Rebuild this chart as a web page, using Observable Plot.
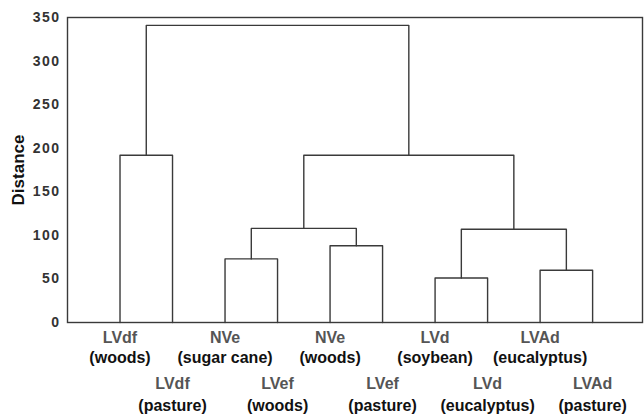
<!DOCTYPE html>
<html>
<head>
<meta charset="utf-8">
<script src="https://cdn.jsdelivr.net/npm/d3@7"></script>
<script src="https://cdn.jsdelivr.net/npm/@observablehq/plot@0.6"></script>
<style>
  html, body { margin: 0; padding: 0; background: #fff; }
  #chart svg { display: block; }
  g[aria-label="leaf-name"] text { letter-spacing: 0.5px; }
  g[aria-label="leaf-use"] text { letter-spacing: 0.9px; }
  g[aria-label="y-axis tick label"] text { letter-spacing: 1.5px; }
</style>
</head>
<body>
<div id="chart"></div>
<script>
// Leaves (left to right in the dendrogram)
const leafNames = ["LVdf", "LVdf", "NVe", "LVef", "NVe", "LVef", "LVd", "LVd", "LVAd", "LVAd"];
const leafUses = ["(woods)", "(pasture)", "(sugar cane)", "(woods)", "(woods)", "(pasture)", "(soybean)", "(eucalyptus)", "(eucalyptus)", "(pasture)"];

// Linkage: cluster ids 0..9 are leaves, merge k creates cluster 10+k
const mergeLeft = [0, 2, 4, 6, 8, 11, 13, 15, 10];
const mergeRight = [1, 3, 5, 7, 9, 12, 14, 16, 17];
const mergeHeight = [192, 73, 88, 51, 60, 108, 107, 192, 341];

const yTicks = [0, 50, 100, 150, 200, 250, 300, 350];

// derive node positions from the tree
const nodeX = leafNames.map((_, i) => i + 1);
const nodeH = leafNames.map(() => 0);
const segs = [];
mergeLeft.forEach((l, k) => {
  const r = mergeRight[k], h = mergeHeight[k];
  segs.push({id: k, x: nodeX[l], y: nodeH[l]});
  segs.push({id: k, x: nodeX[l], y: h});
  segs.push({id: k, x: nodeX[r], y: h});
  segs.push({id: k, x: nodeX[r], y: nodeH[r]});
  nodeX.push((nodeX[l] + nodeX[r]) / 2);
  nodeH.push(h);
});

const leaves = leafNames.map((n, i) => ({x: i + 1, name: n, use: leafUses[i], row: i % 2}));
const row0 = leaves.filter(d => d.row === 0);
const row1 = leaves.filter(d => d.row === 1);

const font = "'Liberation Sans', Arial, sans-serif";
const labelStyle = {fontSize: 16, fontWeight: "bold"};

const chart = Plot.plot({
  width: 644,
  height: 415,
  marginLeft: 67,
  marginRight: 2,
  marginTop: 17,
  marginBottom: 93,
  style: {fontFamily: font, background: "#fff", overflow: "visible"},
  x: {domain: [0, 10.95], axis: null},
  y: {domain: [0, 350], ticks: yTicks, label: null},
  marks: [
    Plot.axisY(yTicks, {tickSize: 0, tickPadding: 7, fontSize: 14, fontWeight: "bold", fill: "#333", label: null}),
    Plot.frame({stroke: "#3a3a3a", strokeWidth: 1.4}),
    Plot.line(segs, {x: "x", y: "y", z: "id", stroke: "#3a3a3a", strokeWidth: 1.4}),
    Plot.text(row0, {x: "x", y: 0, text: "name", dy: 15, ...labelStyle, fill: "#555", ariaLabel: "leaf-name"}),
    Plot.text(row0, {x: "x", y: 0, text: "use", dy: 35, ...labelStyle, fill: "#111", ariaLabel: "leaf-use"}),
    Plot.text(row1, {x: "x", y: 0, text: "name", dy: 61, ...labelStyle, fill: "#555", ariaLabel: "leaf-name"}),
    Plot.text(row1, {x: "x", y: 0, text: "use", dy: 83, ...labelStyle, fill: "#111", ariaLabel: "leaf-use"}),
    Plot.text(["Distance"], {frameAnchor: "left", textAnchor: "middle", dx: -49, rotate: -90, fontSize: 17, fontWeight: "bold", fill: "#111"})
  ]
});
document.getElementById("chart").appendChild(chart);
</script>
</body>
</html>
